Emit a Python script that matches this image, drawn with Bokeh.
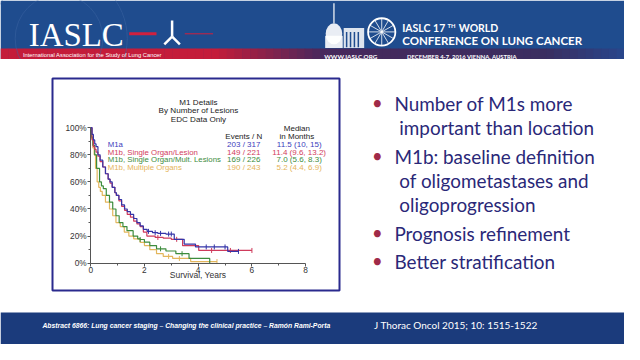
import numpy as np
from bokeh.plotting import figure
from bokeh.models import Range1d, FixedTicker, NumeralTickFormatter
from bokeh.layouts import column, row
from bokeh.core.properties import value
from bokeh.embed import file_html
from bokeh.resources import INLINE

# ---------------- data ----------------
series_names = ["M1a", "M1b, Single Organ/Lesion",
                "M1b, Single Organ/Mult. Lesions", "M1b, Multiple Organs"]
events_n = ["203 / 317", "149 / 221", "169 / 226", "190 / 243"]
medians = ["11.5  (10, 15)", "11.4  (9.6, 13.2)", "7.0  (5.6, 8.3)", "5.2  (4.4, 6.9)"]

m1a_t = [0, .05, .1, .15, .2, .27, .35, .45, .55, .65, .72, .8, .9, .96, 1.05, 1.15, 1.26,
         1.36, 1.48, 1.6, 1.72, 1.84, 1.96, 2.1, 2.3, 2.5, 2.8, 3.11, 3.48, 3.9, 5.1, 5.5]
m1a_s = [1, .95, .91, .88, .86, .80, .76, .71, .66, .62, .60, .56, .52, .50, .47, .43, .40,
         .38, .36, .33, .30, .275, .25, .235, .225, .22, .215, .176, .141, .12, .087, .087]
m1a_c = [2.15, 2.4, 2.6, 2.9, 3.0, 4.3, 4.6, 5.0, 5.5]

slo_t = [0, .05, .1, .15, .2, .27, .35, .45, .55, .65, .72, .8, .9, .95, 1.05, 1.15, 1.26,
         1.36, 1.48, 1.6, 1.72, 1.84, 1.96, 2.09, 2.4, 2.7, 3.0, 3.42, 4.02, 6.0]
slo_s = [1, .91, .86, .84, .82, .79, .75, .71, .66, .62, .59, .56, .52, .50, .46, .42, .39,
         .36, .34, .31, .29, .27, .23, .20, .19, .185, .176, .129, .094, .094]
slo_c = [2.5, 3.2, 4.5, 5.2, 6.0]

sml_t = [0, .03, .08, .15, .22, .33, .4, .47, .58, .7, .82, .94, 1.06, 1.2, 1.35, 1.58,
         1.75, 1.84, 2.0, 2.2, 2.45, 2.8, 3.17, 3.66, 4.43]
sml_s = [1, .93, .87, .80, .70, .60, .57, .55, .50, .45, .40, .35, .30, .27, .24, .20,
         .18, .175, .155, .13, .106, .09, .07, .035, 0]
sml_c = [1.84, 2.6, 3.4]

mo_t = [0, .03, .08, .13, .18, .24, .3, .36, .43, .55, .7, .82, .94, 1.1, 1.25, 1.42, 1.6,
        1.84, 2.0, 2.2, 2.45, 2.7, 3.05, 3.72, 4.7]
mo_s = [1, .92, .85, .80, .70, .60, .56, .53, .50, .45, .40, .35, .30, .27, .23, .20, .18,
        .153, .13, .10, .07, .05, .035, .012, .012]
mo_c = [2.9, 3.3, 4.7]

x_ticks = [0, 2, 4, 6, 8]
x_minor = [1, 3, 5, 7]
y_ticks = [0, .2, .4, .6, .8, 1.0]
y_minor = [.1, .3, .5, .7, .9]

title_lines = ["M1 Details", "By Number of Lesions", "EDC Data Only"]

bullets = [["Number of M1s more", "important than location"],
           ["M1b: baseline definition", "of oligometastases and", "oligoprogression"],
           ["Prognosis refinement"],
           ["Better stratification"]]

header_left = "IASLC"
header_tag = "International Association for the Study of Lung Cancer"
conf_line1 = ["IASLC 17", "TH", "WORLD"]
conf_line2 = "CONFERENCE ON LUNG CANCER"
www = "WWW.IASLC.ORG"
dates = "DECEMBER 4-7, 2016  VIENNA, AUSTRIA"
footer_left = "Abstract 6866: Lung cancer staging \u2013 Changing the clinical practice \u2013 Ram\u00f3n Rami-Porta"
footer_right = "J Thorac Oncol 2015; 10: 1515-1522"

colors = ["#3434a8", "#cf3b5c", "#3d8c3d", "#e3b65c"]
text_colors = ["#3c3cbc", "#d23c5c", "#3d8c3d", "#e5b45a"]

SANS = value("Liberation Sans")
SLIDE = value("Lato")
S = 0.968  # slide-to-canvas scale for font sizes

def fs(px):
    return "%.1fpx" % (px * S)

def blank(w, h, xr, yr, bg="white", **kw):
    f = figure(width=w, height=h, x_range=Range1d(*xr), y_range=Range1d(*yr),
               output_backend="svg", toolbar_location=None, min_border=0,
               x_axis_type=None, y_axis_type=None, outline_line_color=None,
               background_fill_color=bg, border_fill_color=bg, **kw)
    return f

# ---------------- header ----------------
hd = blank(624, 59, (0, 640), (62, 0))
hd.quad(left=[0], right=[640], top=[0], bottom=[62], fill_color="#1f4c8e", line_color=None)
def band_color(x):
    pts = [(0, (196, 28, 58)), (220, (196, 28, 58)), (330, (72, 40, 92)),
           (560, (58, 46, 96)), (640, (40, 70, 140))]
    for (xa, ca), (xb, cb) in zip(pts[:-1], pts[1:]):
        if xa <= x <= xb:
            t = (x - xa) / (xb - xa) if xb > xa else 0
            c = [int(round(a + (b - a) * t)) for a, b in zip(ca, cb)]
            return "#%02x%02x%02x" % tuple(c)
    return "#283c80"
xs = np.arange(0, 640, 8)
hd.quad(left=xs, right=xs + 8.5, top=[50.5] * len(xs), bottom=[61.5] * len(xs),
        fill_color=[band_color(x + 4) for x in xs], line_color=None)
hd.quad(left=[0], right=[640], top=[61.5], bottom=[63], fill_color="white", line_color=None)
hd.arc(x=[60, 60], y=[40, 40], radius=[45, 70], start_angle=0, end_angle=np.pi * 2,
       line_color="#3d65a3", line_alpha=0.5, line_width=1)
hd.text(x=[29], y=[36.5], text=[header_left], text_font=value("Liberation Serif"),
        text_font_size=fs(34), text_color="white", text_baseline="middle")
hd.text(x=[23], y=[57], text=[header_tag], text_font=SANS, text_font_size=fs(6),
        text_color="white", text_baseline="middle")
hd.segment(x0=[132, 189], y0=[35, 35], x1=[160, 218], y1=[35, 35],
           line_color="#d0203e", line_width=[3, 1])
hd.segment(x0=[176, 176, 176], y0=[21, 38, 38], x1=[176, 168, 184], y1=[38, 46, 46],
           line_color="white", line_width=2.5)
hd.segment(x0=[342], y0=[3], x1=[342], y1=[24], line_color="white", line_width=1.2)
hd.ellipse(x=[342], y=[35], width=[17], height=[22], fill_color="white",
           fill_alpha=0.9, line_color=None)
hd.quad(left=[333], right=[351], top=[37], bottom=[50], fill_color="white",
        fill_alpha=0.9, line_color=None)
hd.quad(left=[352], right=[373], top=[29], bottom=[50], fill_color="white",
        fill_alpha=0.85, line_color=None)
hd.segment(x0=[355, 359, 363, 367], y0=[33] * 4, x1=[355, 359, 363, 367], y1=[49] * 4,
           line_color="#1f4c8e", line_width=1.5)
hd.circle(x=[391], y=[33], radius=14, fill_color=None, line_color="white", line_width=1.8)
ang = np.linspace(0, np.pi * 2, 12, endpoint=False)
hd.segment(x0=391 + 0 * ang, y0=33 + 0 * ang, x1=391 + 14 * np.cos(ang), y1=33 + 14 * np.sin(ang),
           line_color="white", line_width=0.8)
hd.text(x=[412], y=[29], text=[conf_line1[0]], text_font=SLIDE, text_font_style="bold",
        text_font_size=fs(10.8), text_color="white", text_baseline="middle")
hd.text(x=[458.5], y=[26.5], text=[conf_line1[1]], text_font=SLIDE, text_font_style="bold",
        text_font_size=fs(6), text_color="white", text_baseline="middle")
hd.text(x=[470], y=[29], text=[conf_line1[2]], text_font=SLIDE, text_font_style="bold",
        text_font_size=fs(10.8), text_color="white", text_baseline="middle")
hd.text(x=[412], y=[42], text=[conf_line2], text_font=SLIDE, text_font_style="bold",
        text_font_size=fs(11.9), text_color="white", text_baseline="middle")
hd.text(x=[332], y=[59], text=[www], text_font=SLIDE, text_font_style="bold",
        text_font_size=fs(6.5), text_color="white", text_baseline="middle")
hd.text(x=[417], y=[59], text=[dates], text_font=SLIDE, text_font_style="bold",
        text_font_size=fs(6.1), text_color="white", text_baseline="middle")

# ---------------- KM chart ----------------
SX = 624 / 640.0
MID_TOP, MID_H = 62.0, 252
SYM = MID_H / (325.5 - MID_TOP)
KM_W = 343
FL, FR = 52, 339              # frame left/right in canvas px
FT, FB = 19, 231              # frame top/bottom in canvas px (within middle)
ref_l, ref_r = FL / SX, FR / SX
ref_t, ref_b = MID_TOP + FT / SYM, MID_TOP + FB / SYM

X0PX, XPX = 92.5, 27.56      # slide pixel of year 0, slide pixels per year
Y0PX, YPX = 275.0, 141.7     # slide pixel of 0%, slide pixels per 100%
def xd(px):
    return (px - X0PX) / XPX
def yd(py):
    return (Y0PX - py) / YPX

km = figure(width=KM_W, height=MID_H,
            x_range=Range1d(xd(ref_l), xd(ref_r)), y_range=Range1d(yd(ref_b), yd(ref_t)),
            output_backend="svg", toolbar_location=None,
            min_border_left=FL, min_border_right=KM_W - FR,
            min_border_top=FT, min_border_bottom=MID_H - FB,
            background_fill_color="white", border_fill_color="white",
            outline_line_color="#2a2a8e", outline_line_width=2)
km.grid.visible = False
for ax in (km.xaxis, km.yaxis):
    ax.fixed_location = 0
    ax.axis_line_color = "#555555"
    ax.major_tick_line_color = "#555555"
    ax.minor_tick_line_color = "#555555"
    ax.major_tick_out = 3
    ax.major_tick_in = 0
    ax.minor_tick_out = 2
    ax.minor_tick_in = 0
    ax.major_label_text_font = "Liberation Sans"
    ax.major_label_text_font_size = fs(8.6)
    ax.major_label_text_color = "#333333"
    ax.major_label_standoff = 1
km.xaxis.bounds = (0, 8)
km.yaxis.bounds = (0, 1)
km.xaxis.ticker = FixedTicker(ticks=x_ticks, minor_ticks=x_minor)
km.yaxis.ticker = FixedTicker(ticks=y_ticks, minor_ticks=y_minor)
km.yaxis.formatter = NumeralTickFormatter(format="0%")
km.xaxis.axis_label = "Survival, Years"
km.xaxis.axis_label_text_font = "Liberation Sans"
km.xaxis.axis_label_text_font_size = fs(8.8)
km.xaxis.axis_label_text_font_style = "normal"
km.xaxis.axis_label_text_color = "#333333"
km.xaxis.axis_label_standoff = -7

curves = [(m1a_t, m1a_s, m1a_c), (slo_t, slo_s, slo_c), (sml_t, sml_s, sml_c), (mo_t, mo_s, mo_c)]
for i in [3, 2, 1, 0]:
    t, s, c = curves[i]
    km.step(x=t, y=s, mode="after", line_color=colors[i], line_width=1.2)
    ta, sa = np.array(t), np.array(s)
    cy = [sa[max(np.searchsorted(ta, ct, side="right") - 1, 0)] for ct in c]
    km.scatter(x=c, y=cy, marker="dash", angle=np.pi / 2, size=5,
               line_color=colors[i], line_width=1)

km.text(x=[xd(203)] * 3, y=[yd(107.3), yd(115.7), yd(124.3)], text=title_lines,
        text_font=SANS, text_font_size=fs(8.4), text_color="#222222",
        text_align="center", text_baseline="middle")
row_y = [yd(151 + 8.0 * i) for i in range(4)]
km.text(x=[xd(110)] * 4, y=row_y, text=series_names, text_font=SANS,
        text_font_size=fs(8.1), text_color=text_colors, text_baseline="middle")
km.text(x=[xd(249.5)] * 4, y=row_y, text=events_n, text_font=SANS,
        text_font_size=fs(8.3), text_color=text_colors, text_baseline="middle",
        text_align="center")
km.text(x=[xd(307.5)] * 4, y=row_y, text=medians, text_font=SANS,
        text_font_size=fs(8.3), text_color=text_colors, text_baseline="middle",
        text_align="center")
km.text(x=[xd(249.5)], y=[yd(142.5)], text=["Events / N"], text_font=SANS,
        text_font_size=fs(8.3), text_color="#222222", text_baseline="middle",
        text_align="center")
km.text(x=[xd(304)] * 2, y=[yd(134.5), yd(142.5)], text=["Median", "in Months"],
        text_font=SANS, text_font_size=fs(8.3), text_color="#222222",
        text_baseline="middle", text_align="center")

# ---------------- bullets ----------------
bl = blank(624 - KM_W, MID_H, (ref_r + (KM_W - FR) / SX, 640), (ref_b, ref_t),
           min_border_top=FT, min_border_bottom=MID_H - FB)
bl.min_border_left = 0
bl.min_border_right = 0
by = 108.0
bx, by_list, bt, dot_y = [], [], [], []
for g, lines in enumerate(bullets):
    if g > 0:
        by += 29.5
    dot_y.append(by)
    for j, ln in enumerate(lines):
        if j > 0:
            by += 25.5
        bx.append(404 if j == 0 else 409)
        by_list.append(by)
        bt.append(ln)
bl.text(x=bx, y=by_list, text=bt, text_font=SLIDE, text_font_size=fs(19.5),
        text_color="#2a2878", text_baseline="middle")
bl.text(x=[381] * len(dot_y), y=dot_y, text=["\u2022"] * len(dot_y), text_font=SLIDE,
        text_font_size=fs(19), text_color="#a02a48", text_baseline="middle")

# ---------------- footer ----------------
ft = blank(624, 344 - 59 - MID_H, (0, 640), (360, 325.5))
ft.quad(left=[0], right=[640], top=[326.5], bottom=[360], fill_color="#1b3b7c", line_color=None)
ft.text(x=[43], y=[340], text=[footer_left], text_font=SANS, text_font_style="bold italic",
        text_font_size=fs(7.0), text_color="white", text_baseline="middle")
ft.text(x=[383], y=[339.5], text=[footer_right], text_font=SLIDE,
        text_font_size=fs(10.3), text_color="white", text_baseline="middle")

layout = column(hd, row(km, bl), ft)
open("out.html", "w").write(file_html(layout, INLINE))
